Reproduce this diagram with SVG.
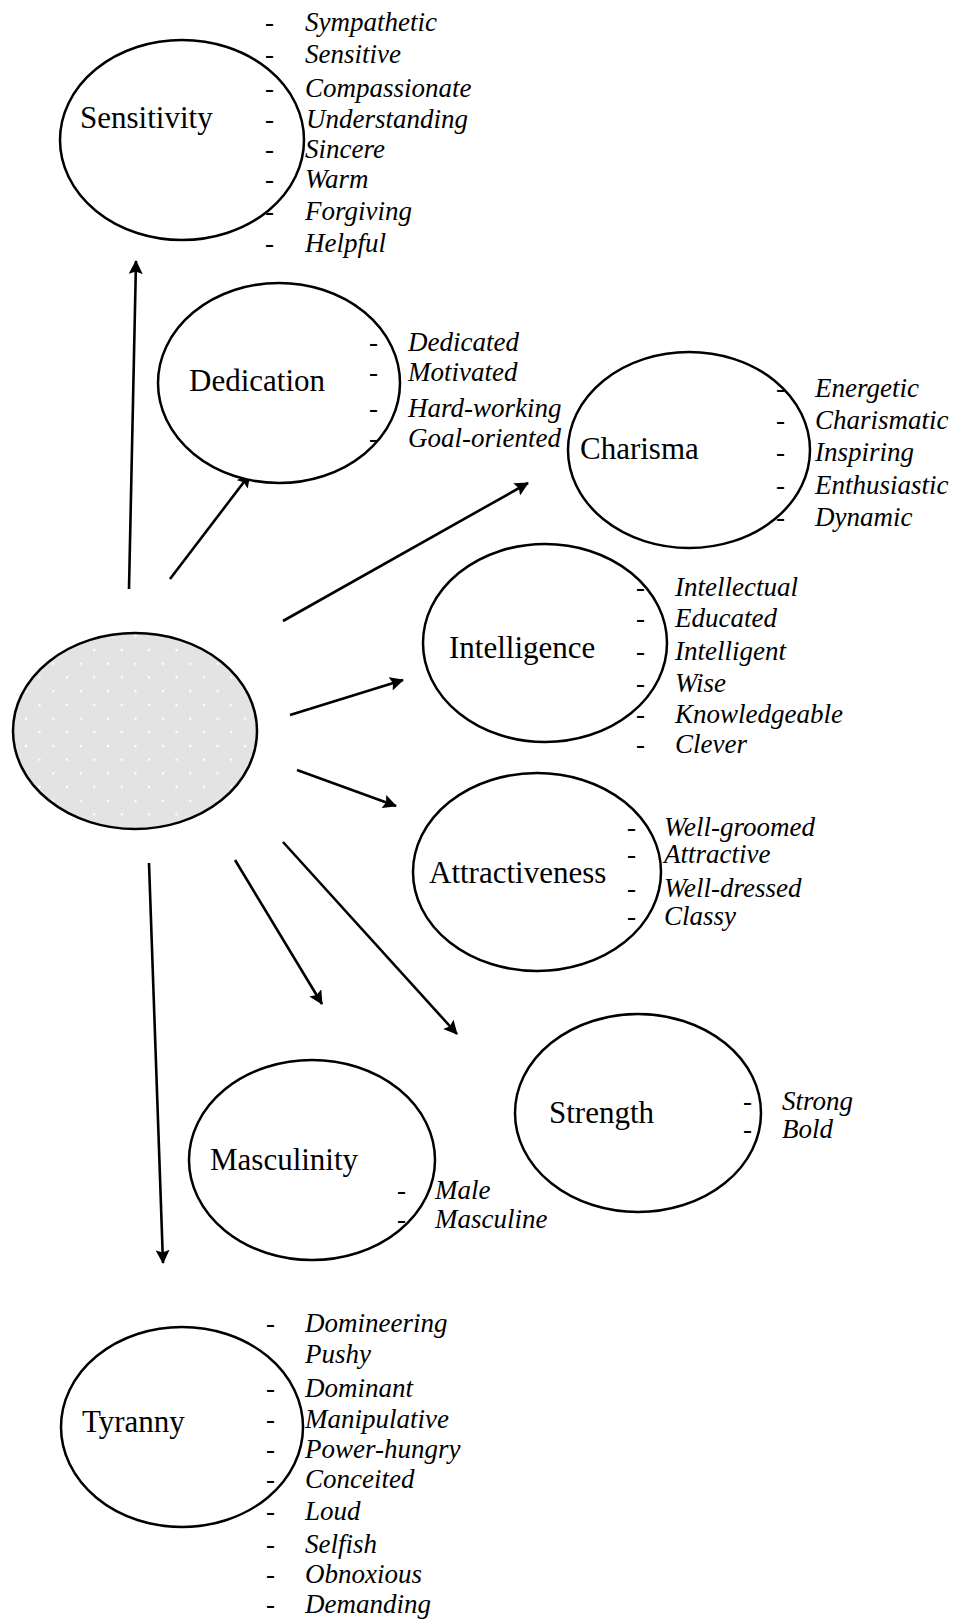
<svg xmlns="http://www.w3.org/2000/svg" width="955" height="1624" viewBox="0 0 955 1624">
<style>
.node{fill:#ffffff;stroke:#000;stroke-width:2.5}
.lbl{font-family:"Liberation Serif","Times New Roman",serif;font-size:31px;fill:#000}
.it{font-family:"Liberation Serif","Times New Roman",serif;font-size:27px;font-style:italic;fill:#000}
.d{font-family:"Liberation Serif","Times New Roman",serif;font-size:27px;fill:#000}
.con{stroke:#000;stroke-width:2.6;fill:none;marker-end:url(#ah)}
</style>
<defs>
<marker id="ah" viewBox="0 0 14 14" refX="13" refY="7" markerWidth="14" markerHeight="14" markerUnits="userSpaceOnUse" orient="auto">
<path d="M0,0 L14,7 L0,14 L2.5,7 z" fill="#000"/>
</marker>
<pattern id="dots" patternUnits="userSpaceOnUse" x="80.6" y="636.3" width="27.4" height="27.4">
<rect x="0" y="0" width="27.4" height="27.4" fill="#e3e3e3"/>
<rect x="-1" y="-1" width="2.2" height="2.2" fill="#fff"/>
<rect x="26.4" y="-1" width="2.2" height="2.2" fill="#fff"/>
<rect x="-1" y="26.4" width="2.2" height="2.2" fill="#fff"/>
<rect x="26.4" y="26.4" width="2.2" height="2.2" fill="#fff"/>
<rect x="12.6" y="12.6" width="2.2" height="2.2" fill="#fff"/>
</pattern>
</defs>

<g id="connectors">
<line class="con" x1="129" y1="589" x2="136" y2="261"/>
<line class="con" x1="170" y1="579" x2="250" y2="474"/>
<line class="con" x1="283" y1="621" x2="528" y2="483"/>
<line class="con" x1="290" y1="715" x2="403" y2="680"/>
<line class="con" x1="297" y1="770" x2="396" y2="806"/>
<line class="con" x1="283" y1="842" x2="457" y2="1034"/>
<line class="con" x1="235" y1="860" x2="322" y2="1004"/>
<line class="con" x1="149" y1="863" x2="163" y2="1263"/>
</g>

<g id="center">
<ellipse cx="135" cy="731" rx="122" ry="98" fill="url(#dots)" stroke="#000" stroke-width="2.5"/>
</g>

<g id="sensitivity">
<ellipse class="node" cx="182" cy="140" rx="122" ry="100"/>
<text class="lbl" x="80" y="128">Sensitivity</text>
<text class="d" x="265" y="31">-</text><text class="it" x="305" y="31">Sympathetic</text>
<text class="d" x="265" y="63">-</text><text class="it" x="305" y="63">Sensitive</text>
<text class="d" x="265" y="97">-</text><text class="it" x="305" y="97">Compassionate</text>
<text class="d" x="265" y="128">-</text><text class="it" x="306" y="128">Understanding</text>
<text class="d" x="265" y="158">-</text><text class="it" x="305" y="158">Sincere</text>
<text class="d" x="265" y="188">-</text><text class="it" x="305" y="188">Warm</text>
<text class="d" x="265" y="220">-</text><text class="it" x="305" y="220">Forgiving</text>
<text class="d" x="265" y="252">-</text><text class="it" x="305" y="252">Helpful</text>
</g>

<g id="dedication">
<ellipse class="node" cx="279" cy="383" rx="121" ry="100"/>
<text class="lbl" x="189" y="391">Dedication</text>
<text class="d" x="369" y="351">-</text><text class="it" x="408" y="351">Dedicated</text>
<text class="d" x="369" y="381">-</text><text class="it" x="408" y="381">Motivated</text>
<text class="d" x="369" y="417">-</text><text class="it" x="408" y="417">Hard-working</text>
<text class="d" x="369" y="447">-</text><text class="it" x="408" y="447">Goal-oriented</text>
</g>

<g id="charisma">
<ellipse class="node" cx="689" cy="450" rx="121" ry="98"/>
<text class="lbl" x="580" y="459">Charisma</text>
<text class="d" x="776" y="397">-</text><text class="it" x="815" y="397">Energetic</text>
<text class="d" x="776" y="429">-</text><text class="it" x="815" y="429">Charismatic</text>
<text class="d" x="776" y="461">-</text><text class="it" x="815" y="461">Inspiring</text>
<text class="d" x="776" y="494">-</text><text class="it" x="815" y="494">Enthusiastic</text>
<text class="d" x="776" y="526">-</text><text class="it" x="815" y="526">Dynamic</text>
</g>

<g id="intelligence">
<ellipse class="node" cx="545" cy="643" rx="122" ry="99"/>
<text class="lbl" x="449" y="658">Intelligence</text>
<text class="d" x="636" y="596">-</text><text class="it" x="675" y="596">Intellectual</text>
<text class="d" x="636" y="627">-</text><text class="it" x="675" y="627">Educated</text>
<text class="d" x="636" y="660">-</text><text class="it" x="675" y="660">Intelligent</text>
<text class="d" x="636" y="692">-</text><text class="it" x="675" y="692">Wise</text>
<text class="d" x="636" y="723">-</text><text class="it" x="675" y="723">Knowledgeable</text>
<text class="d" x="636" y="753">-</text><text class="it" x="675" y="753">Clever</text>
</g>

<g id="attractiveness">
<ellipse class="node" cx="537" cy="872" rx="124" ry="99"/>
<text class="lbl" x="429" y="883">Attractiveness</text>
<text class="d" x="627" y="836">-</text><text class="it" x="664" y="836">Well-groomed</text>
<text class="d" x="627" y="863">-</text><text class="it" x="664" y="863">Attractive</text>
<text class="d" x="627" y="897">-</text><text class="it" x="664" y="897">Well-dressed</text>
<text class="d" x="627" y="925">-</text><text class="it" x="664" y="925">Classy</text>
</g>

<g id="strength">
<ellipse class="node" cx="638" cy="1113" rx="123" ry="99"/>
<text class="lbl" x="549" y="1123">Strength</text>
<text class="d" x="743" y="1110">-</text><text class="it" x="782" y="1110">Strong</text>
<text class="d" x="743" y="1138">-</text><text class="it" x="782" y="1138">Bold</text>
</g>

<g id="masculinity">
<ellipse class="node" cx="312" cy="1160" rx="123" ry="100"/>
<text class="lbl" x="210" y="1170">Masculinity</text>
<text class="d" x="397" y="1199">-</text><text class="it" x="435" y="1199">Male</text>
<text class="d" x="397" y="1228">-</text><text class="it" x="435" y="1228">Masculine</text>
</g>

<g id="tyranny">
<ellipse class="node" cx="182" cy="1427" rx="121" ry="100"/>
<text class="lbl" x="82" y="1432">Tyranny</text>
<text class="d" x="266" y="1332">-</text><text class="it" x="305" y="1332">Domineering</text>
<text class="it" x="305" y="1363">Pushy</text>
<text class="d" x="266" y="1397">-</text><text class="it" x="305" y="1397">Dominant</text>
<text class="d" x="266" y="1428">-</text><text class="it" x="305" y="1428">Manipulative</text>
<text class="d" x="266" y="1458">-</text><text class="it" x="305" y="1458">Power-hungry</text>
<text class="d" x="266" y="1488">-</text><text class="it" x="305" y="1488">Conceited</text>
<text class="d" x="266" y="1520">-</text><text class="it" x="305" y="1520">Loud</text>
<text class="d" x="266" y="1553">-</text><text class="it" x="305" y="1553">Selfish</text>
<text class="d" x="266" y="1583">-</text><text class="it" x="305" y="1583">Obnoxious</text>
<text class="d" x="266" y="1613">-</text><text class="it" x="305" y="1613">Demanding</text>
</g>
</svg>
